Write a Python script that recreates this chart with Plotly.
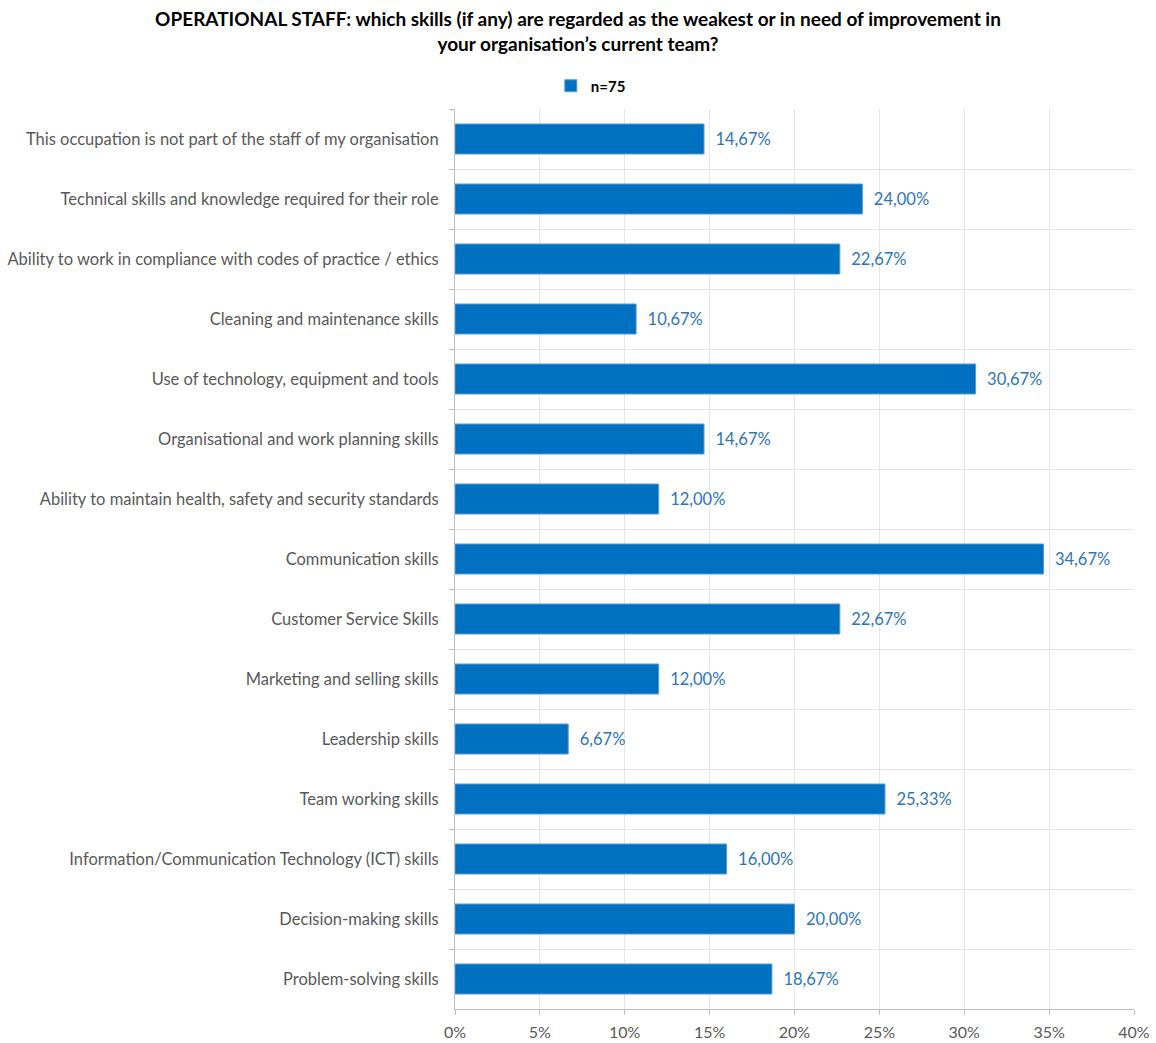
import plotly.graph_objects as go

categories = [
    "This occupation is not part of the staff of my organisation",
    "Technical skills and knowledge required for their role",
    "Ability to work in compliance with codes of practice / ethics",
    "Cleaning and maintenance skills",
    "Use of technology, equipment and tools",
    "Organisational and work planning skills",
    "Ability to maintain health, safety and security standards",
    "Communication skills",
    "Customer Service Skills",
    "Marketing and selling skills",
    "Leadership skills",
    "Team working skills",
    "Information/Communication Technology (ICT) skills",
    "Decision-making skills",
    "Problem-solving skills",
]
shares = [0.1467, 0.2400, 0.2267, 0.1067, 0.3067, 0.1467, 0.1200, 0.3467,
          0.2267, 0.1200, 0.0667, 0.2533, 0.1600, 0.2000, 0.1867]
series_name = "<b>n=75</b>"
x_ticks = [0, 0.05, 0.10, 0.15, 0.20, 0.25, 0.30, 0.35, 0.40]

FONT = "Lato, 'Open Sans', sans-serif"
BAR = "#0070C0"

fig = go.Figure(
    go.Bar(
        y=categories,
        x=shares,
        orientation="h",
        name=series_name,
        marker=dict(color=BAR, line=dict(color="#5B9BD5", width=1)),
        width=0.5,
        texttemplate="  %{x:.2%}",
        textposition="outside",
        textfont=dict(color="#2E75B6", size=16.5, family=FONT),
        cliponaxis=False,
        showlegend=True,
    )
)

fig.update_layout(
    width=1156,
    height=1043,
    separators=",.",
    paper_bgcolor="white",
    plot_bgcolor="white",
    font=dict(family=FONT, size=16, color="#595959"),
    margin=dict(l=455, r=22, t=109, b=34),
    title=dict(
        text="<b>OPERATIONAL STAFF: which skills (if any) are regarded as the weakest or in need of improvement in<br>your organisation’s current team?</b>",
        x=0.5,
        xanchor="center",
        xref="container",
        y=1 - 26 / 1043,
        yanchor="middle",
        yref="container",
        font=dict(size=19, color="black", family=FONT),
    ),
    legend=dict(
        orientation="h",
        x=0.2,
        xanchor="center",
        y=1 - 86 / 1043,
        yref="container",
        yanchor="middle",
        font=dict(size=15, color="black", family=FONT),
        itemwidth=30,
    ),
    bargap=0.5,
)

fig.update_xaxes(
    range=[0, 0.4],
    tickvals=x_ticks,
    tickformat=".0%",
    showgrid=True,
    gridcolor="#E6E6E6",
    gridwidth=1,
    showline=True,
    linecolor="#BFBFBF",
    ticks="outside",
    ticklen=5,
    tickcolor="#BFBFBF",
    zeroline=False,
    automargin=False,
    ticklabelstandoff=4,
    tickfont=dict(size=16, color="#595959"),
)
fig.update_yaxes(
    autorange="reversed",
    showgrid=True,
    gridcolor="#E6E6E6",
    tickson="boundaries",
    showline=True,
    linecolor="#BFBFBF",
    ticks="outside",
    ticklen=5,
    tickcolor="#BFBFBF",
    automargin=False,
    ticklabelstandoff=12,
    tickfont=dict(size=16.5, color="#595959"),
)

fig.write_html("out.html")
